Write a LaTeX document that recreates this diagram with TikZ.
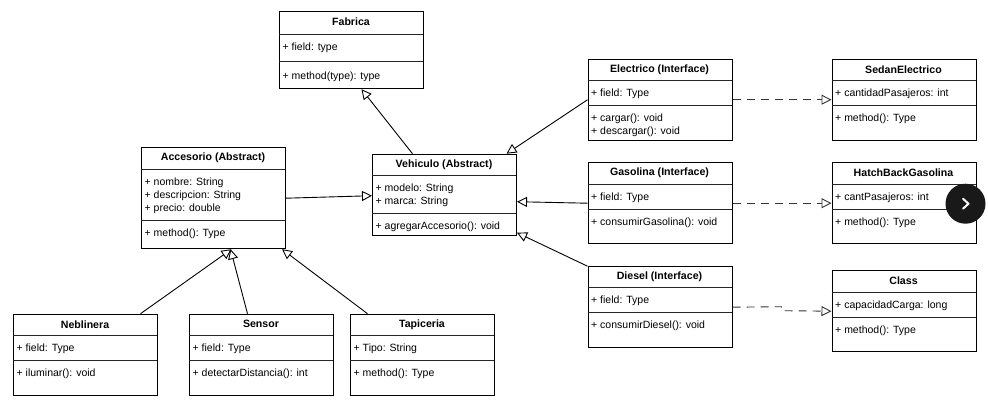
\documentclass[tikz,border=0pt]{standalone}
\usepackage{fontspec}
\setmainfont{Liberation Sans}
\usetikzlibrary{arrows.meta,calc}
\tikzset{
  every node/.style={font=\fontsize{10.5}{13}\selectfont},
  classbox/.style={draw=black,line width=1pt,inner sep=0pt,minimum width=144pt,anchor=north west},
  divider/.style={line width=1pt,draw=black!85},
  classtitle/.style={inner sep=0pt,anchor=center,font=\fontsize{10.6}{13}\selectfont\bfseries},
  members/.style={inner sep=0pt,anchor=north west,align=left},
  inherits/.style={line width=0.9pt,-{Triangle[open,length=10pt,width=10pt,line width=0.9pt]}},
  realizes/.style={line width=0.9pt,draw=black!80,dash pattern=on 8pt off 6pt,-{Triangle[open,length=10pt,width=10pt,line width=0.9pt,sep=0pt]}},
}
\newcommand{\fielddrop}{6.7}
\newcommand{\methoddrop}{6.7}
% name, x0, y0, y1, sep1, sep2, title, fields, methods
\newcommand{\umlclass}[9]{%
  \node[classbox,minimum height={(#4-#3)*1pt}] (#1) at (#2,#3) {};
  \draw[divider] (#2,#5) -- ++(144,0);
  \draw[divider] (#2,#6) -- ++(144,0);
  \node[classtitle] (#1t) at ($(#2,#3)+(72,10.6)$) {#7};
  \node[members] (#1f) at ($(#2,#5)+(3.5,\fielddrop)$) {\strut #8};
  \node[members] (#1m) at ($(#2,#6)+(3.5,\methoddrop)$) {\strut #9};
}
\begin{document}
\begin{tikzpicture}[x=1pt,y=-1pt]
\useasboundingbox (0.5,0.3) rectangle (988.5,408.3);
\renewcommand{\methoddrop}{8.6}
\umlclass{fab}{279.5}{11.5}{88.5}{34.5}{61.5}{Fabrica}{+ field: type}{+ method(type): type}
\renewcommand{\methoddrop}{6.7}
\umlclass{acc}{141.5}{147.5}{248.5}{169.5}{220.5}{Accesorio (Abstract)}{+ nombre: String\\+ descripcion: String\\+ precio: double}{+ method(): Type}
\umlclass{veh}{372.5}{154}{235}{175.5}{213.5}{Vehiculo (Abstract)}{+ modelo: String\\+ marca: String}{+ agregarAccesorio(): void}
\umlclass{neb}{13.5}{314}{395}{335.5}{360.5}{Neblinera}{+ field: Type}{+ iluminar(): void}
\umlclass{sen}{189.5}{314}{395}{335.5}{360.5}{Sensor}{+ field: Type}{+ detectarDistancia(): int}
\umlclass{tap}{350.5}{314}{395}{335.5}{360.5}{Tapiceria}{+ Tipo: String}{+ method(): Type}
\umlclass{ele}{588}{59}{140}{80.5}{106}{Electrico (Interface)}{+ field: Type}{+ cargar(): void\\+ descargar(): void}
\umlclass{gas}{588}{162.5}{243.5}{184.5}{209.5}{Gasolina (Interface)}{+ field: Type}{+ consumirGasolina(): void}
\umlclass{die}{588}{266.5}{347.5}{288}{313}{Diesel (Interface)}{+ field: Type}{+ consumirDiesel(): void}
\umlclass{sed}{832}{59}{140}{80.5}{106}{SedanElectrico}{+ cantidadPasajeros: int}{+ method(): Type}
\umlclass{hat}{832}{162.5}{243.5}{184.5}{209.5}{HatchBackGasolina}{+ cantPasajeros: int}{+ method(): Type}
\umlclass{cla}{832}{270.5}{351.5}{292.5}{317.5}{Class}{+ capacidadCarga: long}{+ method(): Type}
% inheritance
\draw[inherits] ([xshift=-32pt]veh.north) -- ([xshift=10pt]fab.south);
\draw[inherits] (acc.east) -- ([yshift=-1pt]veh.west);
\draw[inherits] ([xshift=55pt]neb.north) -- ([xshift=18pt]acc.south);
\draw[inherits] ([xshift=-14pt]sen.north) -- ([xshift=17pt]acc.south);
\draw[inherits] ([xshift=-55pt]tap.north) -- ([xshift=-4pt]acc.south east);
\draw[inherits] (ele.west) -- ([xshift=62pt]veh.north);
\draw[inherits] (gas.west) -- ([yshift=-7pt]veh.east);
\draw[inherits] (die.north west) -- ([yshift=3pt]veh.south east);
% realization
\draw[realizes] (ele.east) -- (sed.west);
\draw[realizes] (gas.east) -- (hat.west);
\coordinate (bendA) at (782,307);
\coordinate (bendB) at (782,311);
\draw[realizes] (die.east) -- (bendA) -- (bendB) -- (cla.west);
% overlay button
\fill[black!90] (966,204) circle (20);
\draw[white,line width=2pt,line cap=round,line join=round] (963.5,199) -- (969,204) -- (963.5,209);
\end{tikzpicture}
\end{document}
